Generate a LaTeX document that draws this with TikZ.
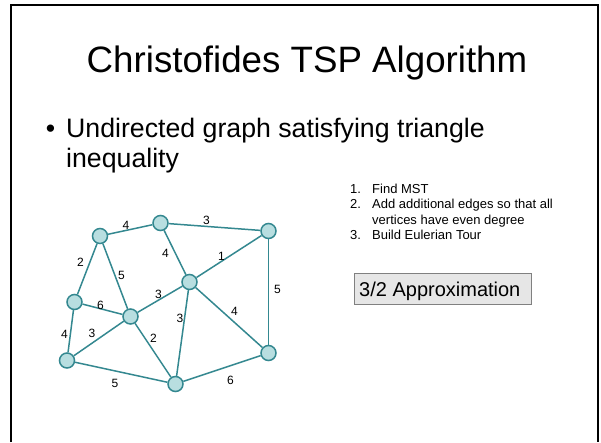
\documentclass[tikz,border=0pt]{standalone}
\usepackage{fontspec}
\setmainfont{Liberation Sans}
\definecolor{tealline}{RGB}{52,136,144}
\definecolor{tealfill}{RGB}{184,222,224}
\definecolor{boxfill}{RGB}{230,230,230}
\definecolor{boxline}{RGB}{128,128,128}
\tikzset{
  vertex/.style={circle, draw=tealline, fill=tealfill, line width=1.5pt, minimum size=15pt, inner sep=0pt},
  edge/.style={draw=tealline, line width=1.5pt},
  lbl/.style={inner sep=0pt, font=\fontsize{12}{14}\selectfont},
  txt/.style={inner sep=0pt, anchor=base west},
}
\begin{document}
\begin{tikzpicture}[x=1pt, y=-1pt]
\useasboundingbox (0,0) rectangle (601,442);
% slide frame, open at the bottom
\draw[line width=2pt] (11,442) -- (11,5) -- (598,5) -- (598,442);

% title and bullet
\node[inner sep=0pt, anchor=base] (title) at (307,72) {\fontsize{36.7}{44}\selectfont Christofides TSP Algorithm};
\node[inner sep=0pt, anchor=base] (bullet) at (50.5,137) {\fontsize{26.7}{30}\selectfont\textbullet};
\node[txt] (line1) at (66,137) {\fontsize{26.7}{30}\selectfont Undirected graph satisfying triangle};
\node[txt] (line2) at (66,167) {\fontsize{26.7}{30}\selectfont inequality};

% numbered steps
\begin{scope}[every node/.style={txt, font=\fontsize{13}{15}\selectfont}]
\node (n1) at (350,193) {1.};
\node (s1) at (372,193) {Find MST};
\node (n2) at (350,208) {2.};
\node (s2) at (372,208) {Add additional edges so that all};
\node (s2b) at (372,224) {vertices have even degree};
\node (n3) at (350,239) {3.};
\node (s3) at (372,239) {Build Eulerian Tour};
\end{scope}

% approximation box
\draw[fill=boxfill, draw=boxline, line width=1pt] (354,273) rectangle (531,304);
\node[txt] (approx) at (359,296) {\fontsize{20}{24}\selectfont 3/2 Approximation};

% graph vertices
\node[vertex] (A) at (100,236) {};
\node[vertex] (B) at (160.5,223) {};
\node[vertex] (C) at (268.5,231) {};
\node[vertex] (D) at (189.5,282) {};
\node[vertex] (E) at (74.5,302) {};
\node[vertex] (F) at (130.5,316.5) {};
\node[vertex] (G) at (67,360.5) {};
\node[vertex] (H) at (175.5,384) {};
\node[vertex] (I) at (268.5,353) {};

% weighted edges
\draw[edge] (A) -- (B);
\draw[edge] (B) -- (C);
\draw[edge] (A) -- (E);
\draw[edge] (A) -- (F);
\draw[edge] (B) -- (D);
\draw[edge] (D) -- (C);
\draw[edge] (C) -- (I);
\draw[edge] (E) -- (F);
\draw[edge] (F) -- (D);
\draw[edge] (E) -- (G);
\draw[edge] (G) -- (F);
\draw[edge] (F) -- (H);
\draw[edge] (D) -- (H);
\draw[edge] (D) -- (I);
\draw[edge] (G) -- (H);
\draw[edge] (H) -- (I);

% edge weights
\node[lbl] (wAB) at (126,225) {4};
\node[lbl] (wBC) at (206.5,220.5) {3};
\node[lbl] (wAE) at (80.5,262.5) {2};
\node[lbl] (wAF) at (121.5,275) {5};
\node[lbl] (wBD) at (165.5,253.5) {4};
\node[lbl] (wDC) at (221.5,256) {1};
\node[lbl] (wCI) at (277.5,289.5) {5};
\node[lbl] (wEF) at (100.5,305) {6};
\node[lbl] (wFD) at (158.5,294.5) {3};
\node[lbl] (wEG) at (64.5,334) {4};
\node[lbl] (wGF) at (92,333) {3};
\node[lbl] (wFH) at (153.5,338.5) {2};
\node[lbl] (wDH) at (180,318.5) {3};
\node[lbl] (wDI) at (234.5,311.5) {4};
\node[lbl] (wGH) at (115,383.5) {5};
\node[lbl] (wHI) at (230.5,380) {6};
\end{tikzpicture}
\end{document}
